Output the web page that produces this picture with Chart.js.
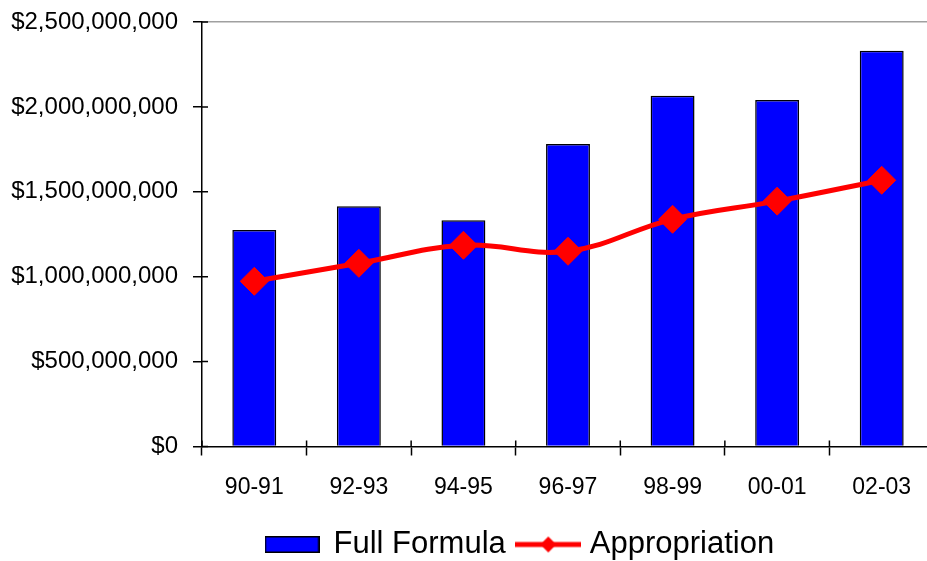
<!DOCTYPE html>
<html>
<head>
<meta charset="utf-8">
<script src="https://cdn.jsdelivr.net/npm/chart.js@4.4.1/dist/chart.umd.min.js"></script>
<style>
  html, body { margin: 0; padding: 0; background: #fff; overflow: hidden; }
  canvas { display: block; }
</style>
</head>
<body>
<canvas id="chart" width="934" height="561"></canvas>
<script>
// Fiscal years on the x axis.
const years = ['90-91', '92-93', '94-95', '96-97', '98-99', '00-01', '02-03'];

// Dollar values.
const fullFormula = [1275000000, 1415000000, 1333000000, 1781000000, 2065000000, 2040000000, 2330000000];
const appropriation = [973000000, 1079000000, 1185000000, 1150000000, 1338000000, 1445000000, 1568000000];

// Y axis range.
const yMax = 2500000000;
const yStep = 500000000;

const FONT = '"Liberation Sans", Arial, sans-serif';

// Legend icons: a bordered blue box and a red line with a diamond.
function barIcon() {
    const c = document.createElement('canvas');
    c.width = 55; c.height = 17;
    const ctx = c.getContext('2d');
    ctx.fillStyle = '#0000ff';
    ctx.fillRect(0, 0, 55, 17);
    ctx.strokeStyle = '#000';
    ctx.lineWidth = 1.5;
    ctx.strokeRect(0.75, 0.75, 53.5, 15.5);
    return c;
}

function lineIcon() {
    const c = document.createElement('canvas');
    c.width = 66; c.height = 20;
    const ctx = c.getContext('2d');
    ctx.strokeStyle = '#ff0000';
    ctx.lineWidth = 5;
    ctx.beginPath();
    ctx.moveTo(0, 10);
    ctx.lineTo(66, 10);
    ctx.stroke();
    ctx.fillStyle = '#ff0000';
    ctx.beginPath();
    ctx.moveTo(33, 2);
    ctx.lineTo(41, 10);
    ctx.lineTo(33, 18);
    ctx.lineTo(25, 10);
    ctx.closePath();
    ctx.fill();
    return c;
}

const legendIcons = [barIcon(), lineIcon()];

// Short tick marks on the inner side of both axes.
const innerTicks = {
    id: 'innerTicks',
    afterDraw(chart) {
        const ctx = chart.ctx;
        const area = chart.chartArea;
        const x = chart.scales.x;
        const y = chart.scales.y;
        ctx.save();
        ctx.strokeStyle = '#000';
        ctx.lineWidth = 1.5;
        ctx.beginPath();
        y.ticks.forEach((t, i) => {
            const py = y.getPixelForTick(i);
            ctx.moveTo(area.left, py);
            ctx.lineTo(area.left + 6, py);
        });
        for (let i = 0; i <= years.length; i++) {
            const px = x.getPixelForValue(i - 0.5);
            ctx.moveTo(px, area.bottom);
            ctx.lineTo(px, area.bottom - 6);
        }
        ctx.stroke();
        ctx.restore();
    },
};

// Legend sits right of centre and a little lower than Chart.js puts it.
const legendShift = {
    id: 'legendShift',
    afterLayout(chart) {
        const lg = chart.legend;
        const w = lg.right - lg.left;
        const pad = lg.options.labels.padding;
        const start = 266;
        lg.left = (2 * start - pad + lg.lineWidths[0] - w) / 2;
        lg.right = lg.left + w;
        lg.top += 9;
        lg.bottom += 9;
    },
};

const chart = new Chart(document.getElementById('chart'), {
    data: {
        labels: years,
        datasets: [
            {
                type: 'bar',
                label: 'Full Formula',
                data: fullFormula,
                backgroundColor: '#0000ff',
                borderColor: '#000',
                borderWidth: 1.5,
                barPercentage: 0.42,
                categoryPercentage: 1,
                order: 2,
            },
            {
                type: 'line',
                label: 'Appropriation',
                data: appropriation,
                borderColor: '#ff0000',
                backgroundColor: '#ff0000',
                borderWidth: 5,
                tension: 0.4,
                pointStyle: 'rectRot',
                pointRadius: 14,
                pointBorderWidth: 1,
                clip: false,
                order: 1,
            },
        ],
    },
    options: {
        responsive: false,
        animation: false,
        layout: {
            autoPadding: false,
            padding: { top: 22, left: 11, right: 0, bottom: 0 },
        },
        plugins: {
            tooltip: { enabled: false },
            legend: {
                position: 'bottom',
                labels: {
                    usePointStyle: true,
                    pointStyleWidth: 52,
                    padding: 16.5,
                    color: '#000',
                    font: { family: FONT, size: 31 },
                    generateLabels(chart) {
                        return chart.data.datasets.map((ds, i) => ({
                            text: ds.label,
                            pointStyle: legendIcons[i],
                            datasetIndex: i,
                            hidden: false,
                            lineWidth: 0,
                            fontColor: '#000',
                        }));
                    },
                },
            },
        },
        scales: {
            x: {
                grid: {
                    display: true,
                    drawOnChartArea: false,
                    offset: true,
                    tickLength: 9,
                    tickColor: '#000',
                    tickWidth: 1.5,
                },
                border: { color: '#000', width: 1.5 },
                ticks: {
                    color: '#000',
                    padding: 18,
                    font: { family: FONT, size: 23 },
                },
                afterFit(scale) {
                    scale.height = 57;
                    scale.paddingLeft = 0;
                    scale.paddingRight = 0;
                },
            },
            y: {
                min: 0,
                max: yMax,
                grid: {
                    color: (c) => (c.tick && c.tick.value === yMax ? '#a0a0a0' : 'transparent'),
                    lineWidth: 1.5,
                    tickLength: 9,
                    tickColor: '#000',
                    tickWidth: 1.5,
                },
                border: { color: '#000', width: 1.5 },
                ticks: {
                    stepSize: yStep,
                    color: '#000',
                    padding: 15,
                    font: { family: FONT, size: 24 },
                    callback: (v) => '$' + Number(v).toLocaleString('en-US'),
                },
                afterFit(scale) {
                    scale.width = 191;
                    scale.paddingTop = 0;
                    scale.paddingBottom = 0;
                },
            },
        },
    },
    plugins: [innerTicks, legendShift],
});
</script>
</body>
</html>
